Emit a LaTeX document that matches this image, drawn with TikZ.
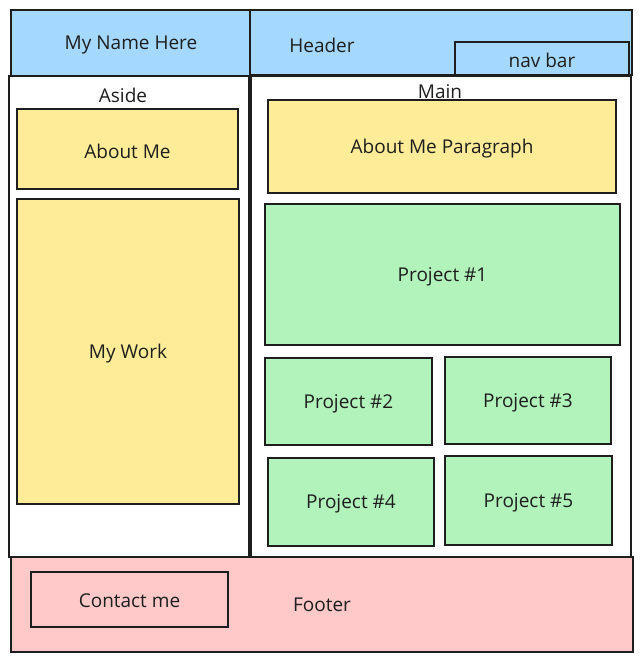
\documentclass[tikz,border=0pt]{standalone}
\usepackage{fontspec}
\setmainfont{Open Sans}
\definecolor{ink}{HTML}{1E1E1E}
\definecolor{skyfill}{HTML}{A5D8FF}
\definecolor{sandfill}{HTML}{FFEC99}
\definecolor{mintfill}{HTML}{B2F2BB}
\definecolor{rosefill}{HTML}{FFC9C9}
\begin{document}
\begin{tikzpicture}[x=1pt,y=-1pt,
  wire/.style={draw=ink, line width=1.9pt, inner sep=0pt, outer sep=0pt},
  label/.style={font=\fontsize{19}{21}\selectfont, text=ink, inner sep=0pt},
  header/.style={wire, fill=skyfill},
  card/.style={wire, fill=sandfill},
  proj/.style={wire, fill=mintfill},
  foot/.style={wire, fill=rosefill},
  plain/.style={wire, fill=white}]
\useasboundingbox[fill=white] (0,0) rectangle (642,662);

% aside and main columns
\node[plain, minimum width=240pt, minimum height=481pt] (aside) at (129,316.5) {};
\node[plain, minimum width=380pt, minimum height=481pt] (main) at (441,316.5) {};
\node[label] (asidetxt) at (123,95) {Aside};
\node[label] (maintxt) at (440,92) {Main};

% header strip
\node[header, minimum width=239pt, minimum height=66pt] (name) at (130.5,43) {};
\node[label] (nametxt) at (131,45) {My Name Here};
\node[header, minimum width=382pt, minimum height=65pt] (head) at (441,42.5) {};
\node[label] (headtxt) at (322,45) {Header};
\node[header, minimum width=174pt, minimum height=33pt] (nav) at (542,58.5) {};
\node[label] (navtxt) at (542,60) {nav bar};

% aside content
\node[card, minimum width=221pt, minimum height=80pt] (about) at (127.5,149) {};
\node[label, yshift=-2pt] (abouttxt) at (about.center) {About Me};
\node[card, minimum width=222pt, minimum height=305pt] (work) at (128,351.5) {};
\node[label, yshift=-2pt] (worktxt) at (work.center) {My Work};

% main content
\node[card, minimum width=348pt, minimum height=93pt] (para) at (442,146.5) {};
\node[label, yshift=-2pt] (paratxt) at (para.center) {About Me Paragraph};
\node[proj, minimum width=355pt, minimum height=141pt] (p1) at (442.5,274.5) {};
\node[label, yshift=-2pt] (p1txt) at (p1.center) {Project \#1};
\node[proj, minimum width=167pt, minimum height=87pt] (p2) at (348.5,401.5) {};
\node[label, yshift=-2pt] (p2txt) at (p2.center) {Project \#2};
\node[proj, minimum width=166pt, minimum height=87pt] (p3) at (528,400.5) {};
\node[label, yshift=-2pt] (p3txt) at (p3.center) {Project \#3};
\node[proj, minimum width=166pt, minimum height=88pt] (p4) at (351,502) {};
\node[label, yshift=-2pt] (p4txt) at (p4.center) {Project \#4};
\node[proj, minimum width=167pt, minimum height=89pt] (p5) at (528.5,500.5) {};
\node[label, yshift=-2pt] (p5txt) at (p5.center) {Project \#5};

% footer
\node[foot, minimum width=622pt, minimum height=95pt] (footer) at (322,604.5) {};
\node[foot, minimum width=197pt, minimum height=55pt] (contact) at (129.5,599.5) {};
\node[label, yshift=-1pt] (contacttxt) at (contact.center) {Contact me};
\node[label] (foottxt) at (322,605) {Footer};
\end{tikzpicture}
\end{document}
